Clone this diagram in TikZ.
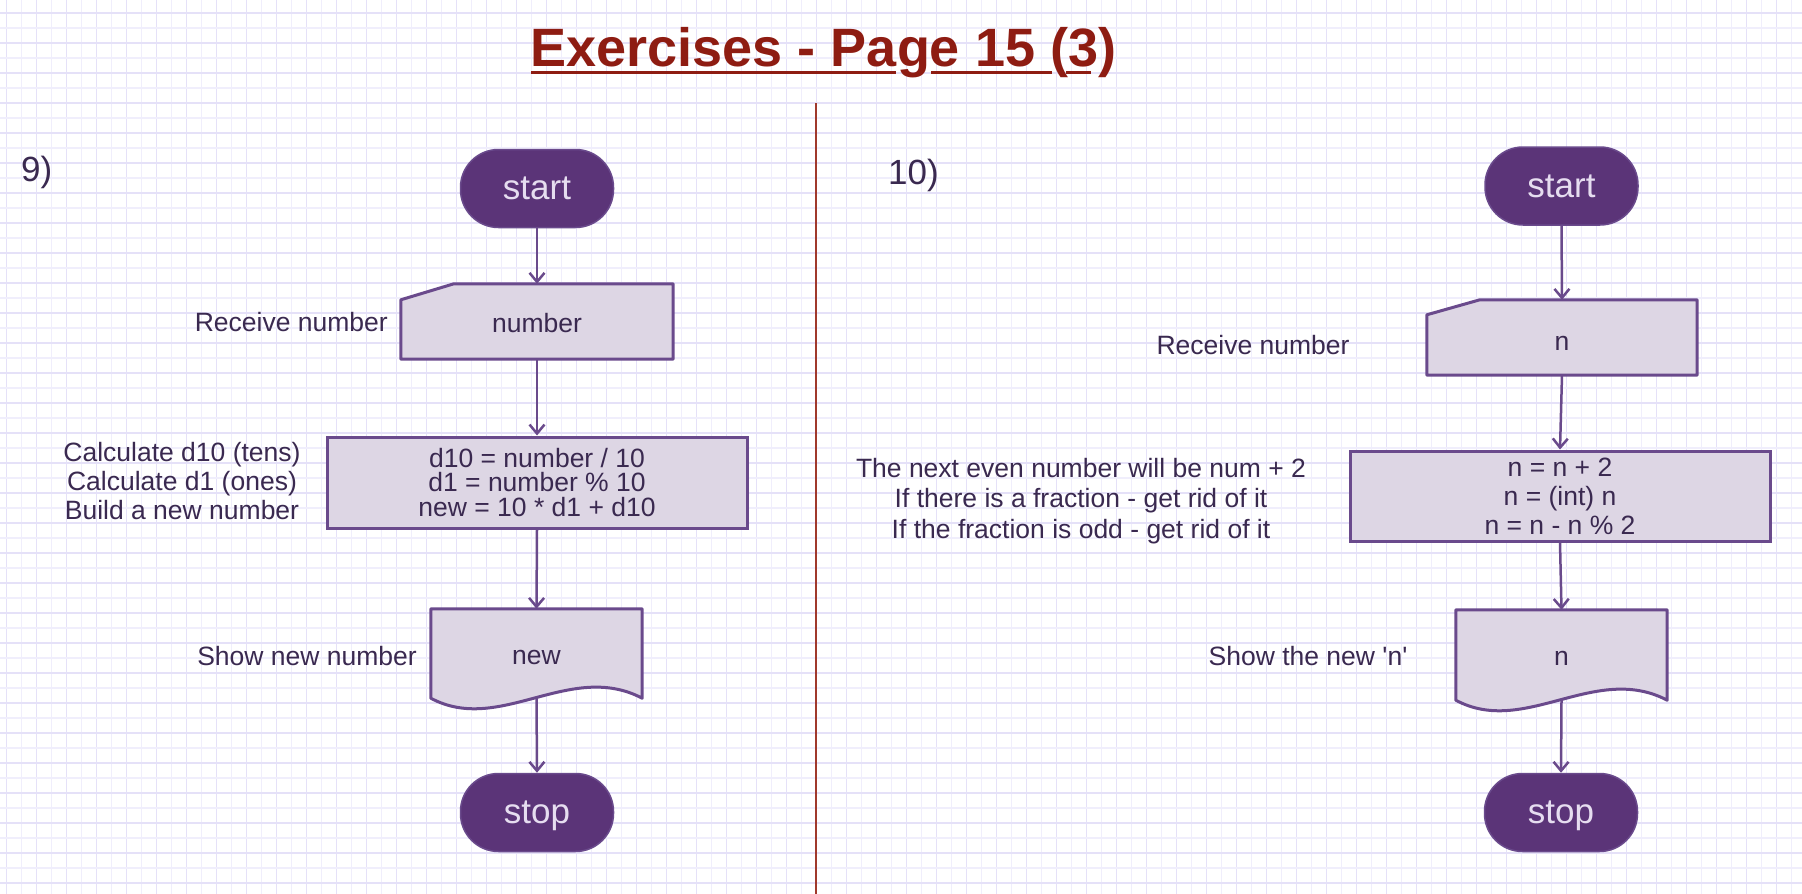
\documentclass[tikz,border=0pt]{standalone}
\usepackage{fontspec}
\setmainfont{Liberation Sans}
\usetikzlibrary{arrows.meta,calc}
\definecolor{edge}{HTML}{6A4A8C}
\definecolor{termfill}{HTML}{5B3478}
\definecolor{termtext}{HTML}{E6DDF0}
\definecolor{boxfill}{HTML}{DDD6E4}
\definecolor{ink}{HTML}{3A2950}
\definecolor{titlered}{HTML}{8E1C12}
\definecolor{divred}{HTML}{A0392C}
\definecolor{gridA}{HTML}{F0EEFC}
\definecolor{gridB}{HTML}{E5E1F8}
\tikzset{
  txt/.style={font=\fontsize{26.5pt}{30.5pt}\selectfont, text=ink},
  term/.style={rectangle, rounded corners=38pt, fill=termfill, draw=edge, line width=1.5pt,
    minimum width=153pt, minimum height=78pt, inner sep=0pt, text=termtext, text depth=0pt,
    font=\fontsize{35pt}{40pt}\selectfont},
  proc/.style={rectangle, fill=boxfill, draw=edge, line width=3pt, minimum width=420pt,
    minimum height=91pt, inner sep=0pt, align=center, txt},
  slot/.style={rectangle, inner sep=0pt, txt},
  shapeline/.style={fill=boxfill, draw=edge, line width=3pt, line join=round},
  lbl/.style={inner sep=0pt, align=center, txt},
  num/.style={inner sep=0pt, text=ink, font=\fontsize{35pt}{40pt}\selectfont},
  arr/.style={draw=edge, line width=2.5pt, -{Straight Barb[length=9pt,width=15pt,line width=2.5pt]}},
}
\begin{document}
\begin{tikzpicture}[x=1pt,y=-1pt]
\useasboundingbox (0,0) rectangle (1802,894);
\fill[white] (0,0) rectangle (1802,894);
% grid
\foreach \i in {0,...,119} {
  \pgfmathtruncatemacro{\gp}{mod(\i,2)}
  \ifnum\gp=0
    \draw[gridB, line width=1.4pt] ({6.7+15*\i},0) -- ({6.7+15*\i},894);
  \else
    \draw[gridA, line width=1.1pt] ({6.7+15*\i},0) -- ({6.7+15*\i},894);
  \fi
}
\foreach \j in {0,...,59} {
  \pgfmathtruncatemacro{\gp}{mod(\j,2)}
  \ifnum\gp=0
    \draw[gridB, line width=1.4pt] (0,{13+15*\j}) -- (1802,{13+15*\j});
  \else
    \draw[gridA, line width=1.1pt] (0,{13+15*\j}) -- (1802,{13+15*\j});
  \fi
}
% title
\node[anchor=base, inner sep=0pt, text=titlered, font=\fontsize{54pt}{60pt}\selectfont\bfseries]
  (title) at (823.5,66) {Exercises - Page 15 (3)};
\draw[titlered, line width=3pt] (531,72.5) -- (896,72.5);
\draw[titlered, line width=3pt] (931,72.5) -- (1052,72.5);
\draw[titlered, line width=3pt] (1066,72.5) -- (1091,72.5);
% divider
\draw[divred, line width=2.5pt] (816,103) -- (816,894);
% numbers
\node[num, anchor=base west] (n9) at (21,181) {9)};
\node[num, anchor=base west] (n10) at (888,184) {10)};

% ---------- left chart ----------
\node[term] (start1) at (537,188.5) {start};
\node[slot, minimum width=272pt, minimum height=75pt] (in1) at (537,321.5) {};
\draw[shapeline] ($(in1.north west)+(0,16)$) -- ($(in1.north west)+(53,0)$) -- (in1.north east)
  -- (in1.south east) -- (in1.south west) -- cycle;
\node[slot] at ([yshift=-2pt]in1.center) {number};
\node[proc, font=\fontsize{26.5pt}{24.5pt}\selectfont] (proc1) at (537,482.5) {d10 = number / 10\\d1 = number \% 10\\new = 10 * d1 + d10};
\node[slot, minimum width=211pt, minimum height=89pt] (out1) at (536.5,653.5) {};
\draw[shapeline] (out1.south west) -- (out1.north west) -- (out1.north east) -- (out1.south east)
  .. controls ($(out1.south west)+(139,-38)$) and ($(out1.south west)+(69,37)$) .. (out1.south west) -- cycle;
\node[slot] at ([yshift=-4pt]out1.center) {new};
\node[term] (stop1) at (537,812.5) {stop};
\draw[arr] (start1.south) -- (in1.north);
\draw[arr] (in1.south) -- (proc1.north);
\draw[arr] (proc1.south) -- (out1.north);
\draw[arr] (out1.south) -- (stop1.north);
\node[lbl, anchor=east] (l1) at (388,322) {Receive number};
\node[lbl, font=\fontsize{26.5pt}{29pt}\selectfont] (l2) at (182,481) {Calculate d10 (tens)\\Calculate d1 (ones)\\Build a new number};
\node[lbl, anchor=east] (l3) at (417,656) {Show new number};

% ---------- right chart ----------
\node[term] (start2) at (1561.5,186) {start};
\node[slot, minimum width=270pt, minimum height=75pt] (in2) at (1562,337.5) {};
\draw[shapeline] ($(in2.north west)+(0,15)$) -- ($(in2.north west)+(53,0)$) -- (in2.north east)
  -- (in2.south east) -- (in2.south west) -- cycle;
\node[slot] at ([yshift=-6pt]in2.center) {n};
\node[proc, minimum height=90pt, font=\fontsize{26.5pt}{29pt}\selectfont] (proc2) at (1560,496) {n = n + 2\\n = (int) n\\n = n - n \% 2};
\node[slot, minimum width=211pt, minimum height=90pt] (out2) at (1561.5,655) {};
\draw[shapeline] (out2.south west) -- (out2.north west) -- (out2.north east) -- (out2.south east)
  .. controls ($(out2.south west)+(139,-38)$) and ($(out2.south west)+(69,37)$) .. (out2.south west) -- cycle;
\node[slot] at ([yshift=-3pt]out2.center) {n};
\node[term] (stop2) at (1561,812.5) {stop};
\draw[arr] (start2.south) -- (in2.north);
\draw[arr] (in2.south) -- (proc2.north);
\draw[arr] (proc2.south) -- (out2.north);
\draw[arr] (out2.south) -- (stop2.north);
\node[lbl] (r1) at (1253,345) {Receive number};
\node[lbl] (r2) at (1081,501) {The next even number will be num + 2\\If there is a fraction - get rid of it\\If the fraction is odd - get rid of it};
\node[lbl] (r3) at (1308,656) {Show the new \textquotesingle n\textquotesingle};
\end{tikzpicture}
\end{document}
